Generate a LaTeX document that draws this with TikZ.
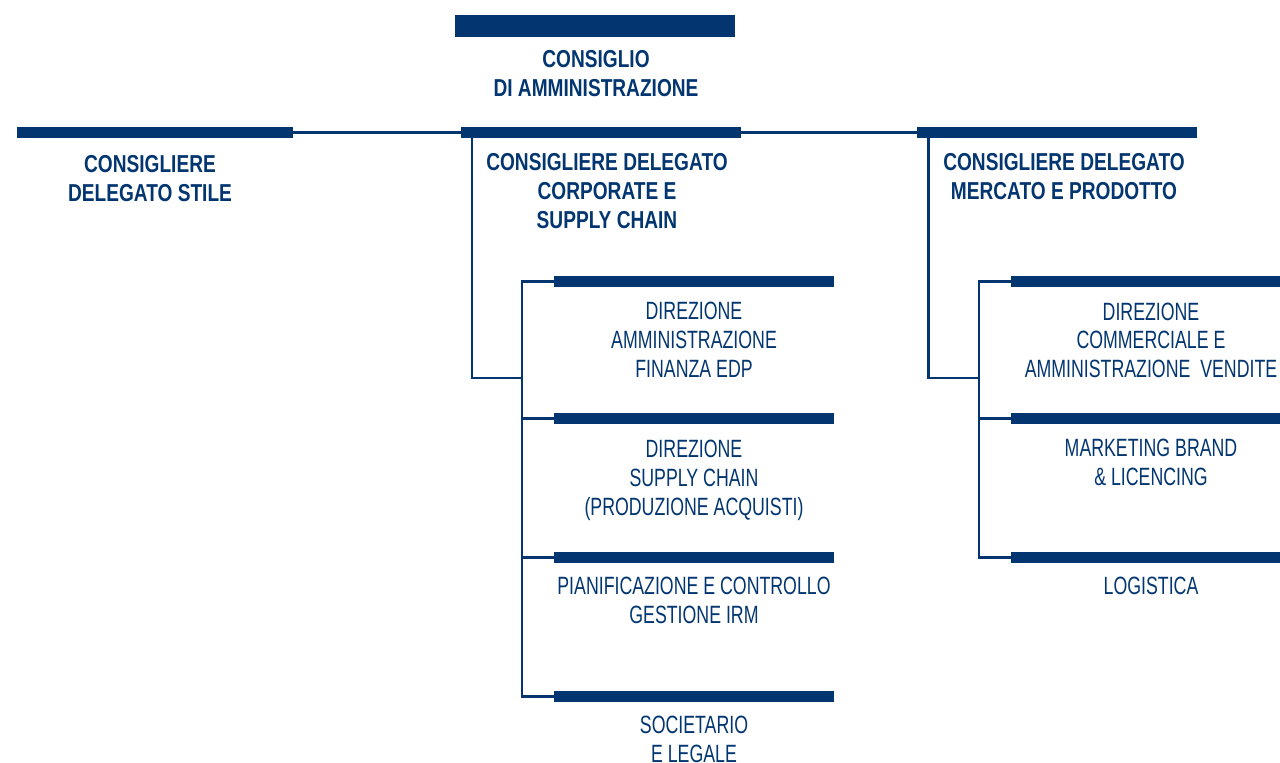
\documentclass[tikz,border=0pt]{standalone}
\usepackage{fontspec}
\newfontfamily\lightf[FakeStretch=0.71]{Liberation Sans}
\newfontfamily\boldf[FakeStretch=0.78]{Liberation Sans}
\definecolor{navy}{RGB}{3,54,112}
\tikzset{
  bar/.style={fill=navy, draw=none, inner sep=0pt, minimum width=280pt, minimum height=10.5pt},
  conn/.style={draw=navy, line width=2.4pt},
  head/.style={text=navy, align=center, inner sep=0pt, anchor=north,
    font=\boldf\bfseries\fontsize{24.5}{29}\selectfont},
  unit/.style={text=navy, align=center, inner sep=0pt, anchor=north,
    font=\lightf\fontsize{25}{28.7}\selectfont}
}
\begin{document}
\begin{tikzpicture}[x=1pt,y=-1pt]
\useasboundingbox (0,0) rectangle (1280,763);
% top level
\node[bar, minimum height=22pt] (tb) at (595,26) {};
\node[head] (tbt) at (596,50) {CONSIGLIO\\DI AMMINISTRAZIONE};
% second level bars
\node[bar, minimum width=276pt] (lb) at (155,132.5) {};
\node[bar] (mb) at (601,132.5) {};
\node[bar] (rb) at (1057,132.5) {};
\draw[conn] (lb.east) -- (mb.west);
\draw[conn] (mb.east) -- (rb.west);
\node[head] (lbt) at (150,155) {CONSIGLIERE\\DELEGATO STILE};
\node[head] (mbt) at (607,153) {CONSIGLIERE DELEGATO\\CORPORATE E\\SUPPLY CHAIN};
\node[head] (rbt) at (1064,153) {CONSIGLIERE DELEGATO\\MERCATO E PRODOTTO};
% middle branch
\coordinate (mj) at (522,378);
\coordinate (mv) at (472,137);
\node[bar] (m1) at (694,281.5) {};
\node[bar] (m2) at (694,418.5) {};
\node[bar] (m3) at (694,557.5) {};
\node[bar] (m4) at (694,696.5) {};
\draw[conn] (mv) |- (mj);
\draw[conn] (m1.west) -- (m1.west -| mj) -- (m4.west -| mj) -- (m4.west);
\draw[conn] (m2.west) -- (m2.west -| mj);
\draw[conn] (m3.west) -- (m3.west -| mj);
\node[unit] (m1t) at (694,302) {DIREZIONE\\AMMINISTRAZIONE\\FINANZA EDP};
\node[unit] (m2t) at (694,440) {DIREZIONE\\SUPPLY CHAIN\\(PRODUZIONE ACQUISTI)};
\node[unit] (m3t) at (694,577) {PIANIFICAZIONE E CONTROLLO\\GESTIONE IRM};
\node[unit] (m4t) at (694,716) {SOCIETARIO\\E LEGALE};
% right branch
\coordinate (rj) at (979,378);
\coordinate (rv) at (928.5,137);
\node[bar] (r1) at (1151,281.5) {};
\node[bar] (r2) at (1151,418.5) {};
\node[bar] (r3) at (1151,557.5) {};
\draw[conn] (rv) |- (rj);
\draw[conn] (r1.west) -- (r1.west -| rj) -- (r3.west -| rj) -- (r3.west);
\draw[conn] (r2.west) -- (r2.west -| rj);
\node[unit] (r1t) at (1151,302.5) {DIREZIONE\\COMMERCIALE E\\AMMINISTRAZIONE\ \ VENDITE};
\node[unit] (r2t) at (1151,439) {MARKETING BRAND\\\& LICENCING};
\node[unit] (r3t) at (1151,577) {LOGISTICA};
\end{tikzpicture}
\end{document}
